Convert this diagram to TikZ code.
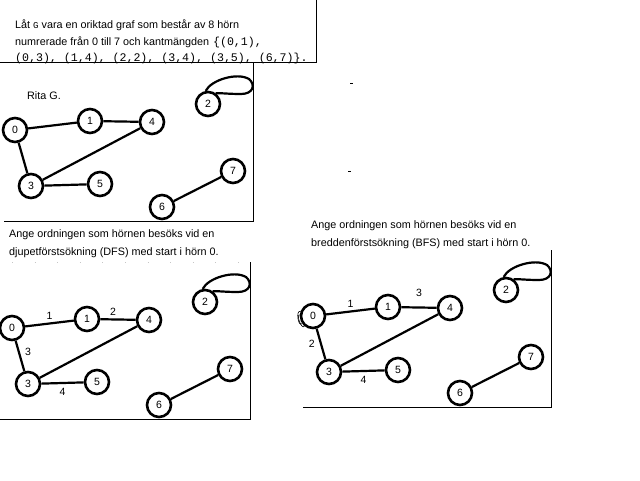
\documentclass[tikz,border=0pt]{standalone}
\usepackage{fontspec}
\setmainfont{Liberation Sans}
\setmonofont{Liberation Mono}
\usepackage{tikz}
\usetikzlibrary{positioning}

\tikzset{
  horn/.style={draw, circle, line width=2.6pt, minimum size=24pt, inner sep=0pt, font=\fontsize{10.5}{12}\selectfont},
  kant/.style={line width=2.2pt},
  ram/.style={line width=0.9pt},
  tal/.style={font=\fontsize{10.5}{12}\selectfont, inner sep=1pt},
  brod/.style={anchor=base west, inner sep=0pt, font=\fontsize{10.8}{13}\selectfont},
  kod/.style={font=\fontsize{11.6}{13}\ttfamily},
}

% graph G, #1 = prefix, #2 = place of vertex 0
\newcommand{\grafG}[2]{%
  \begin{scope}[shift={#2}]
    \node[horn] (#1-0) at (0,0)     {0};
    \node[horn] (#1-1) at (75,-9)   {1};
    \node[horn] (#1-4) at (137,-8)  {4};
    \node[horn] (#1-2) at (193,-26) {2};
    \node[horn] (#1-3) at (16,56)   {3};
    \node[horn] (#1-5) at (85,54)   {5};
    \node[horn] (#1-7) at (218,41)  {7};
    \node[horn] (#1-6) at (147,77)  {6};
    \draw[kant] (#1-0) -- (#1-1);
    \draw[kant] (#1-0) -- (#1-3);
    \draw[kant] (#1-1) -- (#1-4);
    \draw[kant] (#1-3) -- (#1-4);
    \draw[kant] (#1-3) -- (#1-5);
    \draw[kant] (#1-6) -- (#1-7);
    % self-loop (2,2)
    \draw[kant] (#1-2.100) .. controls (196,-50) and (222,-58) .. (234,-51)
      .. controls (241,-45) and (238,-36) .. (226,-36)
      .. controls (214,-36) and (206,-37) .. (#1-2.55);
  \end{scope}}

\begin{document}
\begin{tikzpicture}[x=1pt, y=-1pt]
  \path[use as bounding box] (0,0) rectangle (640,480);

  % question text
  \node[brod] (rad1) at (15,28) {Låt {\fontsize{9}{10}\ttfamily G} vara en oriktad graf som består av 8 hörn};
  \node[brod] (rad2) at (15,45) {numrerade från 0 till 7 och kantmängden\hspace{4pt}{\fontsize{11.6}{13}\ttfamily \{(0,1),}};
  \node[brod, kod] (rad3) at (15,61) {(0,3), (1,4), (2,2), (3,4), (3,5), (6,7)\}.};
  \draw[ram] (0,62) -- (316,62) -- (316,0);

  % Rita G.
  \node[brod] (rita) at (27,99) {Rita G.};
  \grafG{g}{(15,130)}
  \draw[ram] (253,62) -- (253,221) -- (4,221);
  \draw[line width=1pt] (350,83) -- (353,83);
  \draw[line width=1pt] (348,171) -- (351,171);

  % DFS
  \node[brod] (dfs1) at (9,237) {Ange ordningen som hörnen besöks vid en};
  \node[brod] (dfs2) at (9,255) {djupetförstsökning (DFS) med start i hörn 0.};
  \draw[gray!45, line width=0.5pt, dash pattern=on 0.6pt off 22pt] (12,262) -- (250,262);
  \grafG{d}{(12,328)}
  \draw[ram] (250,262) -- (250,419) -- (0,419);
  \path (d-0) -- node[tal, above=3pt] {1} (d-1);
  \path (d-1) -- node[tal, above=3pt, xshift=-5pt] {2} (d-4);
  \path (d-0) -- node[tal, right=4pt, yshift=4pt] {3} (d-3);
  \path (d-3) -- node[tal, below=4pt] {4} (d-5);

  % BFS
  \node[brod] (bfs1) at (311,228) {Ange ordningen som hörnen besöks vid en};
  \node[brod] (bfs2) at (311,246) {breddenförstsökning (BFS) med start i hörn 0.};
  \grafG{b}{(313,316)}
  \draw[ram] (551,250) -- (551,407) -- (303,407);
  \path (b-0) -- node[tal, above=3pt] {1} (b-1);
  \path (b-1) -- node[tal, above=10pt] {3} (b-4);
  \path (b-0) -- node[tal, left=5pt] {2} (b-3);
  \path (b-3) -- node[tal, below=4pt] {4} (b-5);
  % stray scribble on vertex 0
  \draw[line width=0.6pt] (b-0.160) .. controls +(-5,-2) and +(-4,4) .. (b-0.215);
  \draw[line width=0.6pt] (b-0.175) .. controls +(-4,-1) and +(-3,4) .. (b-0.230);
\end{tikzpicture}
\end{document}
